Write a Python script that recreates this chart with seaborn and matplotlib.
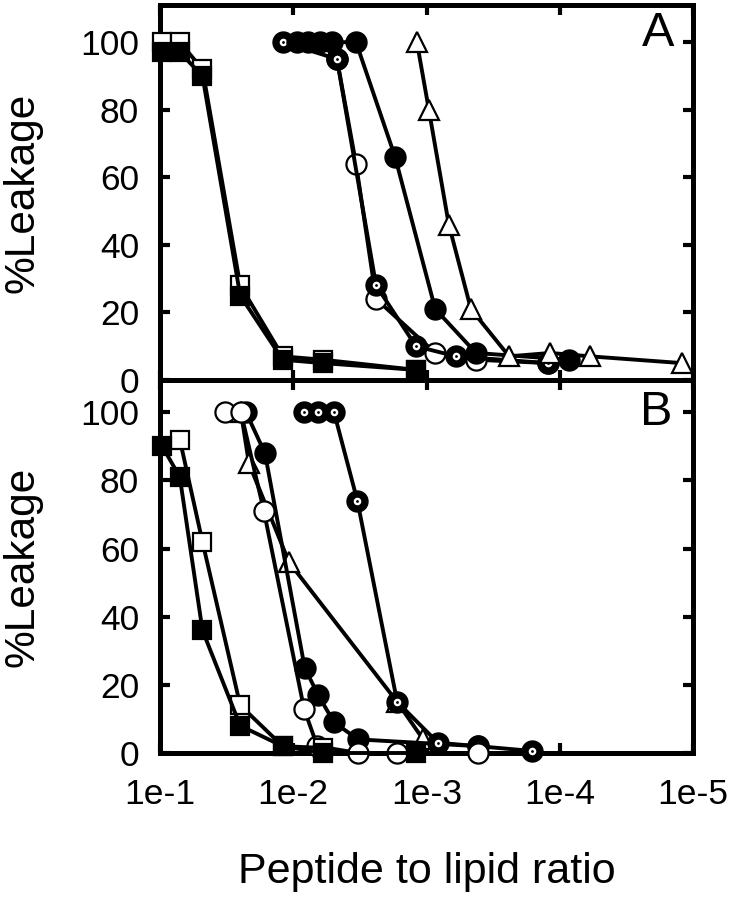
import matplotlib
matplotlib.use("Agg")
import matplotlib.pyplot as plt
import seaborn as sns
from matplotlib.ticker import NullLocator, FixedLocator

# ---------------- data ----------------
# Panel A
a_sq_x = [0.096, 0.071, 0.048, 0.025, 0.012, 0.006, 0.0012]
a_fsq_y = [97, 97, 90, 25, 6, 5, 3]
a_osq_y = [100, 100, 92, 28, 7, 6, 3]

a_ocir_x = [0.0047, 0.00338, 0.00239, 0.00086, 0.000425, 0.000123]
a_ocir_y = [95, 64, 24, 8, 6, 5]

a_bull_x = [0.0119, 0.0047, 0.00239, 0.0012, 0.0006, 0.000123]
a_bull_y = [100, 95, 28, 10, 7, 5]

a_fcir_x = [0.0094, 0.0078, 0.0063, 0.0051, 0.00338, 0.00172, 0.00086, 0.000425, 0.0000853]
a_fcir_y = [100, 100, 100, 100, 100, 66, 21, 8, 6]

a_tri_x = [0.00118, 0.00096, 0.00068, 0.000464, 0.00024, 0.000118, 0.0000593, 0.0000121]
a_tri_y = [100, 80, 46, 21, 7, 8, 7, 5]

# Panel B
b_fsq_x = [0.096, 0.071, 0.048, 0.025, 0.012, 0.006, 0.0012]
b_fsq_y = [90, 81, 36, 8, 2, 0, 0]
b_osq_x = [0.071, 0.048, 0.025, 0.012, 0.006]
b_osq_y = [92, 62, 14, 2, 1.5]

b_ocir_x = [0.0325, 0.0247, 0.0166, 0.0083, 0.0066, 0.00327, 0.00166, 0.00041]
b_ocir_y = [100, 100, 71, 13, 2, 0, 0, 0]

b_fcir_x = [0.0226, 0.0163, 0.0082, 0.0065, 0.00494, 0.00327, 0.00041]
b_fcir_y = [100, 88, 25, 17, 9, 4, 2]

b_bull_x = [0.0083, 0.0065, 0.00494, 0.0033, 0.00166, 0.00082, 0.00041, 0.000161]
b_bull_y = [100, 100, 100, 74, 15, 3, 2, 0.6]

b_tri_x = [0.0247, 0.0215, 0.01076, 0.00166, 0.00106]
b_tri_y = [100, 85, 56, 15, 4]

x_ticks = [1e-1, 1e-2, 1e-3, 1e-4, 1e-5]
x_ticklabels = ["1e-1", "1e-2", "1e-3", "1e-4", "1e-5"]
y_ticks = [0, 20, 40, 60, 80, 100]

# ---------------- style ----------------
sns.set_style("ticks")
plt.rcParams["font.family"] = ["Liberation Sans", "DejaVu Sans"]
plt.rcParams["text.color"] = "black"
plt.rcParams["axes.labelcolor"] = "black"
plt.rcParams["xtick.color"] = "black"
plt.rcParams["ytick.color"] = "black"
plt.rcParams["xtick.labelcolor"] = "black"
plt.rcParams["ytick.labelcolor"] = "black"

LW = 2.8
MEW = 1.6


def series(ax, xs, ys, marker, face, ms, z):
    sns.lineplot(x=xs, y=ys, ax=ax, color="black", marker=marker,
                 markerfacecolor=face, markeredgecolor="black",
                 markeredgewidth=MEW, markersize=ms, linewidth=LW,
                 sort=False, estimator=None, clip_on=False, zorder=z,
                 legend=False)


def bullseye(ax, xs, ys, z):
    series(ax, xs, ys, "o", "black", 14.5, z)
    sns.scatterplot(x=xs, y=ys, ax=ax, color="white", s=30, linewidth=0,
                    marker="o", clip_on=False, zorder=z + 0.1, legend=False)
    sns.scatterplot(x=xs, y=ys, ax=ax, color="black", s=4, linewidth=0,
                    marker="o", clip_on=False, zorder=z + 0.2, legend=False)


fig = plt.figure(figsize=(7.34, 8.99), dpi=100)
W, H = 734, 899
ax1 = fig.add_axes([160 / W, 1 - 380 / H, 533 / W, 375 / H])
ax2 = fig.add_axes([160 / W, 1 - 753 / H, 533 / W, 373 / H])

# Panel A
series(ax1, a_ocir_x, a_ocir_y, "o", "white", 14.5, 3)
bullseye(ax1, a_bull_x, a_bull_y, 4)
series(ax1, a_fcir_x, a_fcir_y, "o", "black", 14.5, 5)
series(ax1, a_tri_x, a_tri_y, "^", "white", 14.5, 6)
series(ax1, a_sq_x, a_osq_y, "s", "white", 13, 7)
series(ax1, a_sq_x, a_fsq_y, "s", "black", 13, 8)

# Panel B
series(ax2, b_tri_x, b_tri_y, "^", "white", 14.5, 3)
series(ax2, b_fcir_x, b_fcir_y, "o", "black", 14.5, 4)
bullseye(ax2, b_bull_x, b_bull_y, 5)
series(ax2, b_ocir_x, b_ocir_y, "o", "white", 14.5, 6)
series(ax2, b_osq_x, b_osq_y, "s", "white", 13, 7)
series(ax2, b_fsq_x, b_fsq_y, "s", "black", 13, 8)

for ax, ytop in ((ax1, 111), (ax2, 109.5)):
    ax.set_xscale("log")
    ax.set_xlim(1e-1, 1e-5)
    ax.set_ylim(0, ytop)
    ax.xaxis.set_major_locator(FixedLocator(x_ticks))
    ax.xaxis.set_minor_locator(NullLocator())
    ax.set_yticks(y_ticks)
    ax.tick_params(axis="both", which="major", direction="in", length=7,
                   width=3, top=True, right=True, bottom=True, left=True,
                   color="black", labelcolor="black")
    ax.tick_params(axis="y", labelsize=25.5, pad=15)
    ax.tick_params(axis="x", labelsize=25.5, pad=18)
    for s in ax.spines.values():
        s.set_linewidth(3.6)
        s.set_color("black")
    ax.set_ylabel("%Leakage", fontsize=30.5, color="black")
    ax.yaxis.set_label_coords(-0.22, 0.5)
    ax.set_xlabel("")

ax1.set_xticklabels([])
ax2.set_xticklabels(x_ticklabels)
ax2.set_xlabel("Peptide to lipid ratio", fontsize=31, color="black")
ax2.xaxis.set_label_coords(0.5, -0.265)

ax1.text(0.965, 0.925, "A", transform=ax1.transAxes, fontsize=35,
         ha="right", va="center", color="black")
ax2.text(0.962, 0.914, "B", transform=ax2.transAxes, fontsize=35,
         ha="right", va="center", color="black")

fig.savefig("out.png", dpi=100)
